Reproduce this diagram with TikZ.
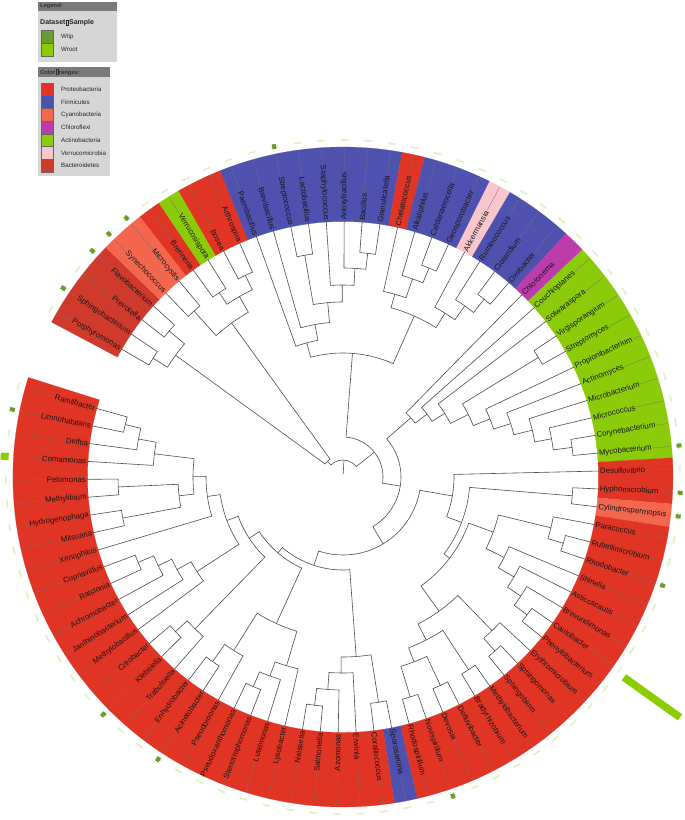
\documentclass[tikz,border=0pt]{standalone}
\usepackage{fontspec}
\setmainfont{Liberation Sans}
\definecolor{proteo}{HTML}{E03424}
\definecolor{bacter}{HTML}{CF3A2D}
\definecolor{firm}{HTML}{4E51AD}
\definecolor{cyano}{HTML}{F5664F}
\definecolor{chloro}{HTML}{BD3CAB}
\definecolor{actino}{HTML}{8CCB0A}
\definecolor{verru}{HTML}{F9C6CB}
\definecolor{wtip}{HTML}{6B9A2F}
\definecolor{wroot}{HTML}{8ACC00}
\definecolor{dashc}{HTML}{E0F1C0}
\definecolor{legbody}{HTML}{D6D6D6}
\definecolor{leghead}{HTML}{7A7A7A}
\tikzset{
 tl/.style={draw=black!70, line width=0.6pt, line join=miter},
 lab/.style={font=\fontsize{7.8}{8}\selectfont, inner sep=1pt, text=black!90},
 aln/.style={draw=black!55, line width=0.3pt},
 legtxt/.style={font=\fontsize{6.2}{7}\selectfont, anchor=west, inner sep=0pt, text=black!85},
 leghd/.style={font=\bfseries\fontsize{5.8}{7}\selectfont, anchor=west, inner sep=0pt, text=black!80},
 swatch/.style={draw=black!60, line width=0.5pt},
}
% internal node: radius, pos1, r1, pos2, r2
\newcommand\nd[5]{%
 \pgfmathsetmacro\ndA{150-4.018*((#2)-1)}%
 \pgfmathsetmacro\ndB{150-4.018*((#4)-1)}%
 \draw[tl] (\ndA:#3pt) -- (\ndA:#1pt) arc[start angle=\ndA, end angle=\ndB, radius=#1pt] -- (\ndB:#5pt);}
% colour sector: pos1, pos2, colour
\newcommand\sect[3]{%
 \pgfmathsetmacro\sA{150-4.018*((#1)-1.5)}%
 \pgfmathsetmacro\sB{150-4.018*((#2)-0.5)}%
 \fill[#3, draw=#3, line width=0.2pt] (\sA:255.5pt) arc[start angle=\sA,end angle=\sB,radius=255.5pt] -- (\sB:330pt) arc[start angle=\sB,end angle=\sA,radius=330pt] -- cycle;}
\newcommand\tofu{{\fboxsep=0pt\fboxrule=0.3pt\kern0.3pt\fbox{\rule{0pt}{5pt}\hspace{2.4pt}}\kern0.3pt}}
\begin{document}
\begin{tikzpicture}
\useasboundingbox (0,0) rectangle (685pt,820pt);
\fill[white] (0,0) rectangle (685pt,820pt);
\begin{scope}[shift={(343pt,343pt)}]
% colour ranges
\sect{1}{4}{bacter}
\sect{5}{6}{cyano}
\sect{7}{7}{proteo}
\sect{8}{8}{actino}
\sect{9}{10}{proteo}
\sect{11}{18}{firm}
\sect{19}{19}{proteo}
\sect{20}{22}{firm}
\sect{23}{23}{verru}
\sect{24}{26}{firm}
\sect{27}{27}{chloro}
\sect{28}{37}{actino}
\sect{38}{39}{proteo}
\sect{40}{40}{cyano}
\sect{41}{57}{proteo}
\sect{58}{58}{firm}
\sect{59}{87}{proteo}
% outer dataset marks
\foreach \i in {1,...,87}{
 \pgfmathsetmacro\a{150-4.018*(\i-1)}
 \pgfmathsetmacro\aL{\a+0.65}
 \pgfmathsetmacro\aR{\a-0.65}
 \draw[dashc, line width=1.6pt] (\aL:337pt) arc[start angle=\aL, end angle=\aR, radius=337pt];
}
\foreach \i in {2,4,5,6,13,37,39,40,43,56,69,72,86}{
 \pgfmathsetmacro\a{150-4.018*(\i-1)}
 \draw[wtip, line width=4pt] (\a:335pt) -- (\a:340pt);
}
\pgfmathsetmacro\a{150-4.018*83}
\draw[wroot, line width=7pt] (\a:335pt) -- (\a:343pt);
\draw[wroot, line width=7.5pt] (-35.5:345pt) -- (-35.5:414pt);
% ---------- tree ----------
% Bacteroidetes / cyanobacteria group
\nd{224}{1}{256}{2}{256}
\nd{227}{3}{256}{4}{256}
\nd{207}{1.5}{224}{3.5}{227}
\nd{223}{5}{256}{6}{256}
\nd{222}{7}{256}{8}{256}
\nd{224}{9}{256}{10}{256}
\nd{208}{7.5}{222}{9.5}{224}
\nd{190}{5.5}{223}{8.5}{208}
\nd{22}{2.5}{207}{7}{190}
% Firmicutes
\nd{225}{13}{256}{14}{256}
\nd{225}{17}{256}{18}{256}
\nd{209}{16}{256}{17.5}{225}
\nd{192}{15}{256}{16.75}{209}
\nd{175}{13.5}{225}{15.875}{192}
\nd{155}{12}{256}{14.6875}{175}
\nd{139}{11}{256}{13.34375}{155}
% Chelatococcus ... Oxobacter
\nd{226}{21}{256}{22}{256}
\nd{210}{20}{256}{21.5}{226}
\nd{190}{19}{256}{20.75}{210}
\nd{227}{25}{256}{26}{256}
\nd{210}{24}{256}{25.5}{227}
\nd{193}{23}{256}{24.75}{210}
\nd{176}{19.875}{190}{23.875}{193}
\nd{124}{12.171875}{139}{21.875}{176}
% Chloronema + Actinobacteria
\nd{231}{36}{256}{37}{256}
\nd{212}{35}{256}{36.5}{231}
\nd{195}{34}{256}{35.75}{212}
\nd{176}{33}{256}{34.875}{195}
\nd{158}{32}{256}{33.9375}{176}
\nd{229}{30}{256}{31}{256}
\nd{140}{30.5}{229}{32.96875}{158}
\nd{120}{29}{256}{31.734375}{140}
\nd{105}{28}{256}{30.3671875}{120}
\nd{90}{27}{256}{29.18359375}{105}
% Desulfovibrio ... Rhodospirillum
\nd{230}{39}{256}{40}{256}
\nd{230}{42}{256}{43}{256}
\nd{214}{41}{256}{42.5}{230}
\nd{230}{47}{256}{48}{256}
\nd{214}{46}{256}{47.5}{230}
\nd{198}{45}{256}{46.75}{214}
\nd{180}{44}{256}{45.875}{198}
\nd{160}{41.75}{214}{44.9375}{180}
\nd{231}{50}{256}{51}{256}
\nd{214}{49}{256}{50.5}{231}
\nd{230}{52}{256}{53}{256}
\nd{230}{54}{256}{55}{256}
\nd{230}{56}{256}{57}{256}
\nd{198}{54.5}{230}{56.5}{230}
\nd{183}{52.5}{230}{55.5}{198}
\nd{165}{49.75}{214}{54}{183}
\nd{134}{43.34375}{160}{51.875}{165}
\nd{127}{39.5}{230}{47.609375}{134}
\nd{111}{38}{256}{43.5546875}{127}
% Sporosarcina ... Ramlibacter
\nd{228}{58}{256}{59}{256}
\nd{230}{62}{256}{63}{256}
\nd{213}{61}{256}{62.5}{230}
\nd{196}{60}{256}{61.75}{213}
\nd{180}{58.5}{228}{60.875}{196}
\nd{228}{66}{256}{67}{256}
\nd{212}{65}{256}{66.5}{228}
\nd{197}{64}{256}{65.75}{212}
\nd{226}{69}{256}{70}{256}
\nd{205}{68}{256}{69.5}{226}
\nd{161}{64.875}{197}{68.75}{205}
\nd{228}{72}{256}{73}{256}
\nd{212}{71}{256}{72.5}{228}
\nd{222}{77}{256}{78}{256}
\nd{205}{76}{256}{77.5}{222}
\nd{190}{75}{256}{76.75}{205}
\nd{174}{74}{256}{75.875}{190}
\nd{224}{80}{256}{81}{256}
\nd{225}{82}{256}{83}{256}
\nd{165}{80.5}{224}{82.5}{225}
\nd{224}{86}{256}{87}{256}
\nd{208}{85}{256}{86.5}{224}
\nd{190}{84}{256}{85.75}{208}
\nd{150}{81.5}{165}{84.875}{190}
\nd{137}{79}{256}{83.1875}{150}
\nd{124}{74.9375}{174}{81.09375}{137}
\nd{112}{71.75}{212}{78.015625}{124}
\nd{100}{66.8125}{161}{74.8828125}{112}
\nd{93}{59.6875}{180}{70.84765625}{100}
% deep nodes
\nd{78}{40.77734375}{111}{65.267578125}{93}
\nd{58}{28.091796875}{90}{53.0224609375}{78}
\nd{40}{17.0234375}{124}{40.55712890625}{58}
\nd{17}{4.75}{22}{28.790283203125}{40}
\pgfmathsetmacro\rA{150-4.018*15.77}
\draw[tl] (\rA:3pt) -- (\rA:17pt);
% ---------- labels ----------
\foreach \nm [count=\i] in {Porphyromonas, Sphingobacterium, Prevotella, Flavobacterium, Synechococcus, Microcystis, Brenneria, Verrucosispora, Bosea, Arthrospira, Paenibacillus, Brevibacillus, Streptococcus, Lactobacillus, Staphylococcus, Anoxybacillus, Bacillus, Granulicatella, Chelatococcus, Alkaliphilus, Caldanaerocella, Geosporobacter, Akkermansia, Ruminococcus, Clostridium, Oxobacter, Chloronema, Couchioplanes, Solwaraspora, Virgisporangium, Streptomyces, Propionibacterium, Actinomyces, Microbacterium, Micrococcus, Corynebacterium, Mycobacterium, Desulfovibrio, Hyphomicrobium, Cylindrospermopsis, Paracoccus, Rubellimicrobium, Rhodobacter, Shinella, Asticcacaulis, Brevundimonas, Caulobacter, Phenylobacterium, Erythromicrobium, Sphingomonas, Sphingobium, Methylobacterium, Bradyrhizobium, Defluvibacter, Devosia, Novispirillum, Rhodospirillum, Sporosarcina, Coraliococcus, Erwinia, Azomonas, Salmonella, Neisseria, Lysobacter, Luteimonas, Stenotrophomonas, Pseudoxanthomonas, Pseudomonas, Acinetobacter, Enhydrobacter, Trabulsiella, Klebsiella, Citrobacter, Methylobacillus, Janthinobacterium, Achromobacter, Ralstonia, Cupriavidus, Xenophilus, Mitsuaria, Hydrogenophaga, Methylibium, Pelomonas, Comamonas, Delftia, Limnohabitans, Ramlibacter}{
 \pgfmathsetmacro\a{150-4.018*(\i-1)}
 \pgfmathtruncatemacro\side{cos(\a)>=0}
 \ifnum\side=1
  \node[lab, anchor=west, rotate=\a] (L\i) at (\a:256pt) {\nm};
  \draw[aln] (L\i.east) -- (\a:329pt);
 \else
  \pgfmathsetmacro\b{\a+180}
  \node[lab, anchor=east, rotate=\b] (L\i) at (\a:256pt) {\nm};
  \draw[aln] (L\i.west) -- (\a:329pt);
 \fi
}
\end{scope}
% ---------- legends ----------
\fill[legbody] (38pt,758pt) rectangle (117pt,818pt);
\fill[leghead] (38pt,809pt) rectangle (117pt,818pt);
\node[leghd] (lh1) at (40pt,813.5pt) {Legend:};
\node[anchor=west, inner sep=0pt, font=\bfseries\fontsize{7}{8}\selectfont, text=black!85] (ds) at (40pt,797pt) {Dataset\tofu Sample};
\draw[swatch, fill=wtip] (41pt,777pt) rectangle (53pt,790pt);
\draw[swatch, fill=wroot] (41pt,764pt) rectangle (53pt,777pt);
\node[legtxt] (w1) at (61pt,783.5pt) {Wtip};
\node[legtxt] (w2) at (61pt,770.5pt) {Wroot};
\fill[legbody] (38pt,644pt) rectangle (110pt,753pt);
\fill[leghead] (38pt,743pt) rectangle (110pt,753pt);
\node[leghd] (lh2) at (40pt,748pt) {Color\tofu ranges:};
\foreach \c/\t [count=\k from 0] in {proteo/Proteobacteria, firm/Firmicutes, cyano/Cyanobacteria, chloro/Chloroflexi, actino/Actinobacteria, verru/Verrucomicrobia, bacter/Bacteroidetes}{
 \pgfmathsetmacro\yt{737-12.7*\k}
 \draw[swatch, fill=\c] (41pt,\yt pt) rectangle (53pt,{(\yt-12.7)*1pt});
 \node[legtxt] (c\k) at (61pt,{(\yt-6.35)*1pt}) {\t};
}
\end{tikzpicture}
\end{document}
